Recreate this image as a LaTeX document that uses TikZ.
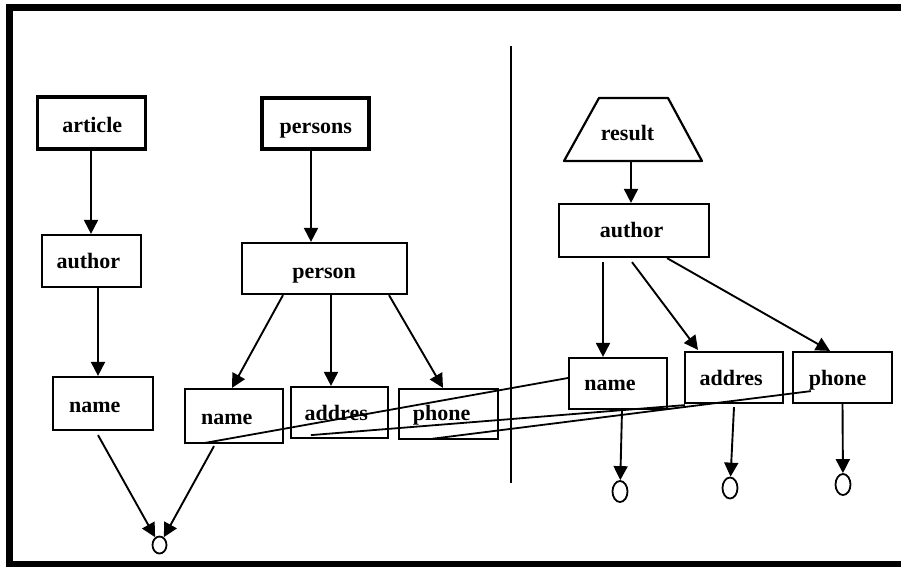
\documentclass[tikz,border=0pt]{standalone}
\usepackage{fontspec}
\setmainfont{Liberation Serif}
\usetikzlibrary{arrows.meta,shapes.geometric,calc}

\begin{document}
\begin{tikzpicture}[x=1pt,y=-1pt,
  box/.style 2 args={draw, line width=2.2pt, minimum width=#1, minimum height=#2, inner sep=0pt},
  rootbox/.style 2 args={box={#1}{#2}, line width=3.2pt},
  txt/.style={font=\bfseries\fontsize{22}{24}\selectfont, inner sep=0pt, anchor=base},
  leaf/.style 2 args={draw, ellipse, line width=1.8pt, minimum width=#1, minimum height=#2, inner sep=0pt},
  arr/.style={line width=1.9pt, -{Triangle[length=14pt,width=14pt]}},
  joinline/.style={line width=1.8pt},
]
\fill[white] (0,0) rectangle (901,566);
\useasboundingbox (0,0) rectangle (901,566);

% frame
\draw[line width=6.5pt] (901,7.3) -- (9.7,7.3) -- (9.7,563.8) -- (901,563.8);

% separator between the two sides
\draw[line width=2.6pt] (511,46) -- (511,483);

% ---- left side: article tree
\node[rootbox={108pt}{52pt}] (article) at (91.5,123) {};
\node[box={99pt}{52pt}] (lauthor) at (91.5,261) {};
\node[box={100pt}{53pt}] (lname) at (103,403.5) {};

% ---- left side: persons tree
\node[rootbox={107pt}{51pt}] (persons) at (315.5,123.5) {};
\node[box={165pt}{51pt}] (person) at (324.5,268.5) {};
\node[box={98pt}{54pt}] (mname) at (234,416) {};
\node[box={97pt}{51pt}] (maddr) at (339.5,412.5) {};
\node[box={99pt}{50pt}] (mphone) at (448.5,414) {};
\node[leaf={14pt}{17pt}] (lcirc) at (159.5,545) {};

% ---- right side: result tree (trapezoid outline)
\draw[line width=2.2pt, line join=round] (599,98) -- (668,98) -- (702,161) -- (564,161) -- cycle;
\coordinate (result) at (631,161);
\node[box={150pt}{53pt}] (rauthor) at (634,230.5) {};
\node[box={98pt}{51pt}] (rname) at (618,383.5) {};
\node[box={98pt}{51pt}] (raddr) at (734,377.5) {};
\node[box={99pt}{51pt}] (rphone) at (842.5,377.5) {};
\node[leaf={15pt}{21pt}] (rc1) at (620,491.5) {};
\node[leaf={15pt}{21pt}] (rc2) at (730,488) {};
\node[leaf={15pt}{21pt}] (rc3) at (843,484.5) {};

% labels
\node[txt] (t-article) at (92.2,132.3) {article};
\node[txt] (t-lauthor) at (88.3,268.3) {author};
\node[txt] (t-lname) at (94.7,412.7) {name};
\node[txt] (t-persons) at (315.8,133.3) {persons};
\node[txt] (t-person) at (324.2,278.3) {person};
\node[txt] (t-mname) at (226.7,424.3) {name};
\node[txt] (t-maddr) at (336.3,420) {addres};
\node[txt] (t-mphone) at (441.7,420) {phone};
\node[txt] (t-result) at (627.5,140) {result};
\node[txt] (t-rauthor) at (631.7,237.3) {author};
\node[txt] (t-rname) at (610,390) {name};
\node[txt] (t-raddr) at (731.2,385) {addres};
\node[txt] (t-rphone) at (837.7,385) {phone};

% edges of the left trees
\draw[arr] ([xshift=-0.5pt]article.south) -- ([xshift=-0.5pt]lauthor.north);
\draw[arr] ([xshift=6.5pt]lauthor.south) -- ([xshift=-5pt]lname.north);
\draw[arr] ([xshift=-4.5pt]persons.south) -- ([xshift=-13.5pt]person.north);
\draw[arr] ([xshift=-41.5pt]person.south) -- ([xshift=-2pt]mname.north);
\draw[arr] ([xshift=6.5pt]person.south) -- ([xshift=-8.5pt]maddr.north);
\draw[arr] ([xshift=64.5pt]person.south) -- ([xshift=-5.5pt]mphone.north);
\draw[arr] ([xshift=-5pt,yshift=-4pt]lname.south) -- (lcirc);
\draw[arr] ([xshift=-20pt,yshift=-2pt]mname.south) -- (lcirc);

% edges of the result tree
\draw[arr] (result) -- ([xshift=-3pt]rauthor.north);
\draw[arr] ([xshift=-31pt,yshift=-4pt]rauthor.south) -- ([xshift=-15pt]rname.north);
\draw[arr] ([xshift=-2pt,yshift=-4pt]rauthor.south) -- ([xshift=-36pt,yshift=1pt]raddr.north);
\draw[arr] ([xshift=33pt]rauthor.south) -- ([xshift=-12.5pt]rphone.north);
\draw[arr] ([xshift=4pt]rname.south) -- (rc1);
\draw[arr] ([yshift=-3pt]raddr.south) -- (rc2);
\draw[arr] (rphone.south) -- (rc3);

% join lines across the separator
\draw[joinline] ([yshift=5.5pt]rname.west) -- ([xshift=20pt,yshift=1pt]mname.south west);
\draw[joinline] ([xshift=21pt,yshift=4pt]maddr.south west) -- ([xshift=1pt,yshift=-1pt]raddr.south west);
\draw[joinline] ([xshift=34pt,yshift=1.3pt]mphone.south west) -- ([xshift=19pt,yshift=13pt]rphone.south west);
\end{tikzpicture}
\end{document}
